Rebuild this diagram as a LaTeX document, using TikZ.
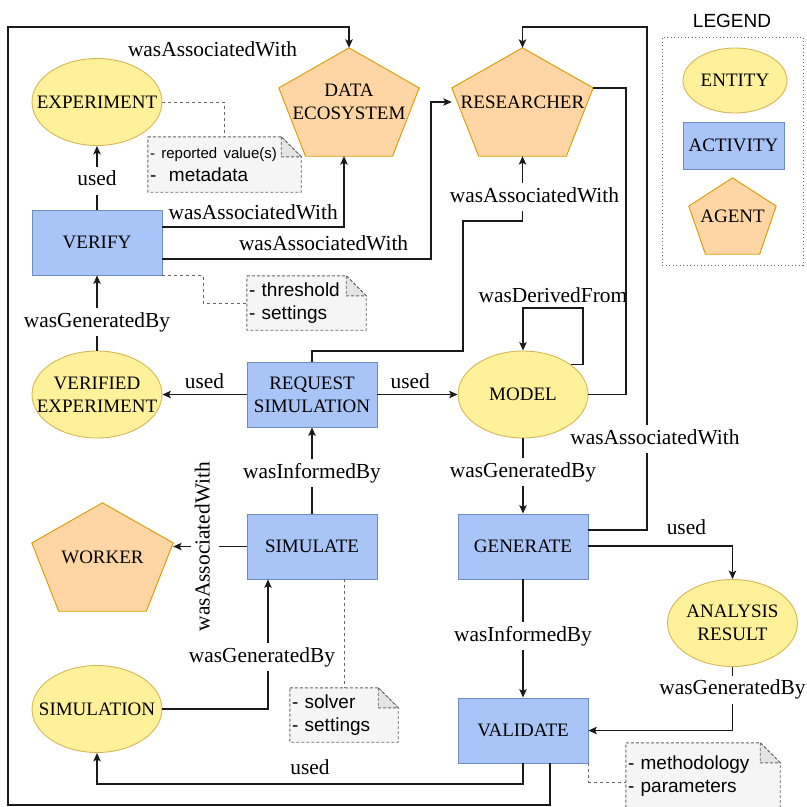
\documentclass[tikz,border=0pt]{standalone}
\usepackage{fontspec}
\setmainfont{Liberation Serif}
\setsansfont{Liberation Sans}
\usetikzlibrary{shapes.geometric,arrows.meta,calc,backgrounds}

\definecolor{entfill}{HTML}{FFF09A}
\definecolor{entline}{HTML}{D6B656}
\definecolor{actfill}{HTML}{A9C4F7}
\definecolor{actline}{HTML}{6C8EBF}
\definecolor{agfill}{HTML}{FFD6A3}
\definecolor{agline}{HTML}{D79B00}
\definecolor{memofill}{HTML}{F5F5F5}
\definecolor{memofoldfill}{HTML}{E4E4E4}
\definecolor{memoline}{HTML}{666666}
\definecolor{edgecol}{HTML}{1A1A1A}

\newcommand{\boxtextfont}{\fontsize{19}{23}\selectfont}
\newcommand{\edgetextfont}{\fontsize{21.4}{25}\selectfont}
\newcommand{\memotextfont}{\sffamily\fontsize{19}{23}\selectfont}

% ellipse text set in a zero-width box so the ellipse keeps its given size
\newcommand{\ovaltext}[1]{\makebox[0pt]{\raisebox{-1.8pt}[\height][\depth]{%
  \begin{tabular}{@{}c@{}}#1\end{tabular}}}}

% pentagon drawn inside the bounding box of an agent node
\newcommand{\agentpoly}[1]{%
  \filldraw[fill=agfill, draw=agline, line width=0.9pt]
    (#1.north)
    -- ($(#1.north east)!0.37!(#1.south east)$)
    -- ($(#1.south east)!0.19!(#1.south west)$)
    -- ($(#1.south west)!0.19!(#1.south east)$)
    -- ($(#1.north west)!0.37!(#1.south west)$)
    -- cycle;}

% note sheet with a folded top-right corner
\newcommand{\memopath}[1]{%
  \filldraw[fill=memofill, draw=memoline, line width=0.9pt, dash pattern=on 3pt off 2pt]
    (#1.north west) -- ([xshift=-20pt]#1.north east) -- ([yshift=-20pt]#1.north east)
    -- (#1.south east) -- (#1.south west) -- cycle;
  \filldraw[fill=memofoldfill, draw=memoline, line width=0.9pt, dash pattern=on 3pt off 2pt]
    ([xshift=-20pt]#1.north east) -- ([xshift=-20pt,yshift=-20pt]#1.north east)
    -- ([yshift=-20pt]#1.north east) -- cycle;}

\begin{document}
\begin{tikzpicture}[x=1pt, y=-1pt,
  entity/.style={ellipse, draw=entline, fill=entfill, line width=0.9pt,
    minimum width=130pt, minimum height=87pt, inner sep=0pt, font=\boxtextfont},
  activity/.style={rectangle, draw=actline, fill=actfill, line width=0.9pt,
    minimum width=130pt, minimum height=65pt, inner sep=0pt, align=center, font=\boxtextfont},
  agent/.style={rectangle, inner sep=0pt, align=center, font=\boxtextfont},
  memo/.style={rectangle, inner xsep=2pt, inner ysep=0pt, align=left, font=\memotextfont},
  lbl/.style={font=\edgetextfont, fill=white, inner xsep=1pt, inner ysep=4pt,
    text height=15pt, text depth=5pt},
  lblclear/.style={font=\edgetextfont, inner sep=1pt},
  arr/.style={draw=edgecol, line width=1.2pt, -{Stealth[length=8.5pt,width=7.5pt,inset=2pt]}},
  plain/.style={draw=edgecol, line width=1.2pt},
  dashlink/.style={draw=memoline, line width=1pt, dash pattern=on 3pt off 3pt}]

\useasboundingbox (0,0) rectangle (807,807);

% ---- entities
\node[entity] (exp)   at (97,102)    {\ovaltext{EXPERIMENT}};
\node[entity] (vexp)  at (97,394.5)  {\ovaltext{VERIFIED\\EXPERIMENT}};
\node[entity] (model) at (523,394.5) {\ovaltext{MODEL}};
\node[entity] (simn)  at (97,709)    {\ovaltext{SIMULATION}};
\node[entity] (ar)    at (732.5,623) {\ovaltext{ANALYSIS\\RESULT}};

% ---- activities
\node[activity] (ver) at (97,242.5)  {VERIFY};
\node[activity] (req) at (312,394.5) {REQUEST\\SIMULATION};
\node[activity] (sim) at (312,546.5) {SIMULATE};
\node[activity] (gen) at (523,546.5) {GENERATE};
\node[activity] (val) at (523,730.5) {VALIDATE};

% ---- agents
\node[agent, minimum width=140pt, minimum height=108pt] (de)  at (349,102)   {DATA\\ECOSYSTEM};
\node[agent, minimum width=141pt, minimum height=108pt] (res) at (522.5,102) {RESEARCHER};
\node[agent, minimum width=141pt, minimum height=108pt] (wkr) at (102.5,557) {WORKER};
\coordinate (resrv) at ($(res.north east)!0.37!(res.south east)$);

% ---- notes
\node[memo, minimum width=153pt, minimum height=55pt, text width=149pt] (n1) at (224.5,164.5)
  {{\fontsize{15}{18}\selectfont - reported value(s)}\\-\ \ metadata};
\node[memo, minimum width=119pt, minimum height=54pt, text width=115pt] (n2) at (306.5,303)
  {- threshold\\- settings};
\node[memo, minimum width=108pt, minimum height=54pt, text width=104pt] (n3) at (344,715)
  {- solver\\- settings};
\node[memo, minimum width=154pt, minimum height=66pt, text width=150pt] (n4) at (703,776)
  {- methodology\\- parameters};

% ---- legend
\node[font=\sffamily\fontsize{19}{23}\selectfont] (legtitle) at (732,21) {LEGEND};
\node[rectangle, draw=memoline, line width=0.9pt, dash pattern=on 1pt off 2.5pt,
  minimum width=141pt, minimum height=228pt] (legbox) at (732.5,151) {};
\node[entity, minimum width=104pt, minimum height=65pt] (lgent) at (735,80.5) {\ovaltext{ENTITY}};
\node[activity, minimum width=101pt, minimum height=47pt] (lgact) at (733.5,145.5) {ACTIVITY};
\node[agent, minimum width=87pt, minimum height=76pt] (lgag) at (732.5,216) {AGENT};

% ---- shapes behind the agent and note texts
\begin{scope}[on background layer]
  \agentpoly{de}
  \agentpoly{res}
  \agentpoly{wkr}
  \agentpoly{lgag}
  \memopath{n1}
  \memopath{n2}
  \memopath{n3}
  \memopath{n4}
\end{scope}

% ---- note links
\draw[dashlink] (exp.east) -| (n1.north);
\draw[dashlink] (ver.south east) -- (203,0 |- ver.south east) |- (n2.west);
\draw[dashlink] (sim.south -| n3.north) -- (n3.north);
\draw[dashlink] (val.south east) |- (n4.west |- 0,782);

% ---- relations
\draw[arr] (ver) -- node[lbl, pos=0.45]{used} (exp);
\draw[arr] (ver.east |- 0,227) -| node[lblclear, pos=0.25, yshift=15pt]{wasAssociatedWith}
  ([xshift=-5pt]de.south);
\draw[arr] (ver.east |- 0,259) -- node[lblclear, pos=0.6, yshift=16pt]{wasAssociatedWith}
  (431,259) |- (res.west);
\draw[arr] (vexp) -- node[lbl, pos=0.38]{wasGeneratedBy} (ver);
\draw[arr] (req) -- node[lblclear, yshift=13pt]{used} (vexp);
\draw[arr] (req) -- node[lblclear, pos=0.41, yshift=13pt]{used} (model);
\draw[arr] (req.north) |- (463,351) |- (res.south |- 0,221)
  -- node[lbl, pos=0.37, xshift=12pt]{wasAssociatedWith} (res.south);
\draw[arr] (model.32.5) -- (583,0 |- model.32.5) -- (583,308)
  -| node[lblclear, pos=0.25, yshift=13pt]{wasDerivedFrom} (model.north);
\draw[plain] (model.east) -- (626,0 |- model.east) -- (626,0 |- resrv) -- (resrv);
\draw[arr] (model) -- node[lbl, pos=0.45]{wasGeneratedBy} (gen);
\draw[arr] (gen.east |- 0,530) -- (647,530)
  -- node[lbl, pos=0.18, xshift=8pt]{wasAssociatedWith} (647,27) -| (res.north);
\draw[arr] (gen.east |- 0,546) -| node[lblclear, pos=0.34, yshift=19pt]{used} (ar.north);
\draw[arr] (gen) -- node[lbl, pos=0.48]{wasInformedBy} (val);
\draw[arr] (ar.south) |- node[lbl, pos=0.18]{wasGeneratedBy} (val.east);
\draw[arr] (val.south) -- (val.south |- 0,784)
  -| node[lblclear, pos=0.25, yshift=17pt]{used} (simn.south);
\draw[arr] (550,0 |- val.south) -- (550,805) -| (8,27)
  -| node[lblclear, pos=0.3, yshift=-22pt]{wasAssociatedWith} (de.north);
\draw[arr] (sim.west) -- node[lbl, pos=0.57, rotate=90]{wasAssociatedWith} (wkr.east |- sim.west);
\draw[arr] (sim) -- node[lbl, pos=0.47]{wasInformedBy} (req);
\draw[arr] (simn.east) -| node[lbl, pos=0.7, xshift=-6pt]{wasGeneratedBy} (268,0 |- sim.south);

\end{tikzpicture}
\end{document}
